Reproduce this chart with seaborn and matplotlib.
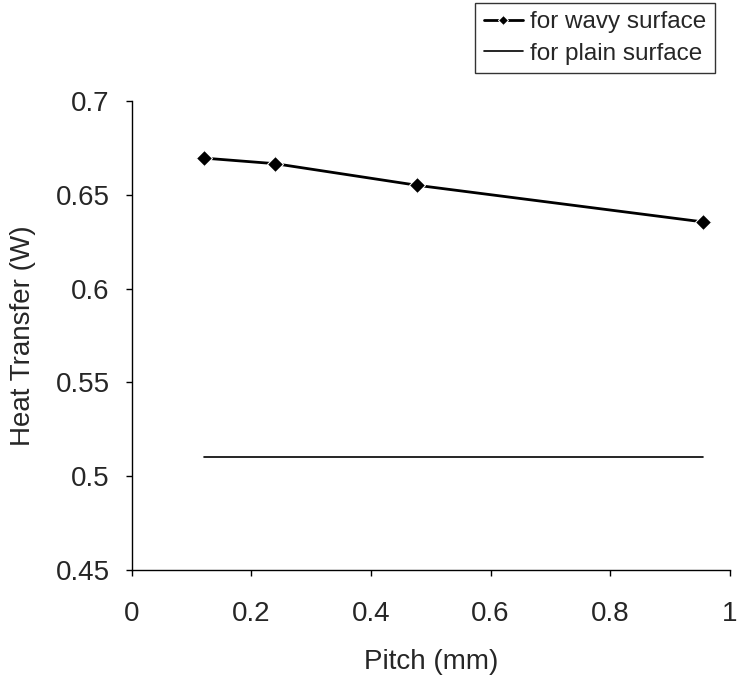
import pandas as pd
import matplotlib.pyplot as plt
import seaborn as sns

# Data
pitch = [0.12, 0.24, 0.477, 0.955]
heat_wavy = [0.6695, 0.6665, 0.655, 0.6355]
pitch_plain = [0.12, 0.955]
heat_plain = [0.51, 0.51]

df_wavy = pd.DataFrame({'Pitch': pitch, 'Heat': heat_wavy})
df_plain = pd.DataFrame({'Pitch': pitch_plain, 'Heat': heat_plain})

sns.set_style('white')
plt.rcParams['font.family'] = ['Liberation Sans', 'DejaVu Sans']

fig = plt.figure(figsize=(7.37, 6.79), dpi=100)
ax = fig.add_axes([0.179, 0.1605, 0.811, 0.691])

sns.lineplot(data=df_wavy, x='Pitch', y='Heat', ax=ax, color='black', marker='D',
             markersize=8, linewidth=2, label='for wavy surface')
sns.lineplot(data=df_plain, x='Pitch', y='Heat', ax=ax, color='black',
             linewidth=1.2, label='for plain surface')

ax.set_xlim(0, 1)
ax.set_ylim(0.45, 0.7)
ax.set_xticks([0, 0.2, 0.4, 0.6, 0.8, 1])
ax.set_xticklabels(['0', '0.2', '0.4', '0.6', '0.8', '1'])
ax.set_yticks([0.45, 0.5, 0.55, 0.6, 0.65, 0.7])
ax.set_yticklabels(['0.45', '0.5', '0.55', '0.6', '0.65', '0.7'])
ax.set_xlabel('Pitch (mm)', fontsize=20, labelpad=16)
ax.set_ylabel('Heat Transfer (W)', fontsize=20, labelpad=14)
ax.tick_params(axis='both', labelsize=20, direction='out', length=4, width=1,
               color='black', left=True, bottom=True)
ax.tick_params(axis='x', pad=18)
ax.tick_params(axis='y', pad=12)

for side in ['top', 'right']:
    ax.spines[side].set_visible(False)
for side in ['left', 'bottom']:
    ax.spines[side].set_color('black')
    ax.spines[side].set_linewidth(1)

leg = ax.legend(loc='upper right', bbox_to_anchor=(0.970, 0.996), bbox_transform=fig.transFigure,
                borderaxespad=0, fontsize=17.5, frameon=True, fancybox=False, edgecolor='black',
                handlelength=1.6, borderpad=0.35, labelspacing=0.4, handletextpad=0.3,
                markerscale=0.7)
leg.get_frame().set_linewidth(1)

fig.savefig('out.png', dpi=100)
